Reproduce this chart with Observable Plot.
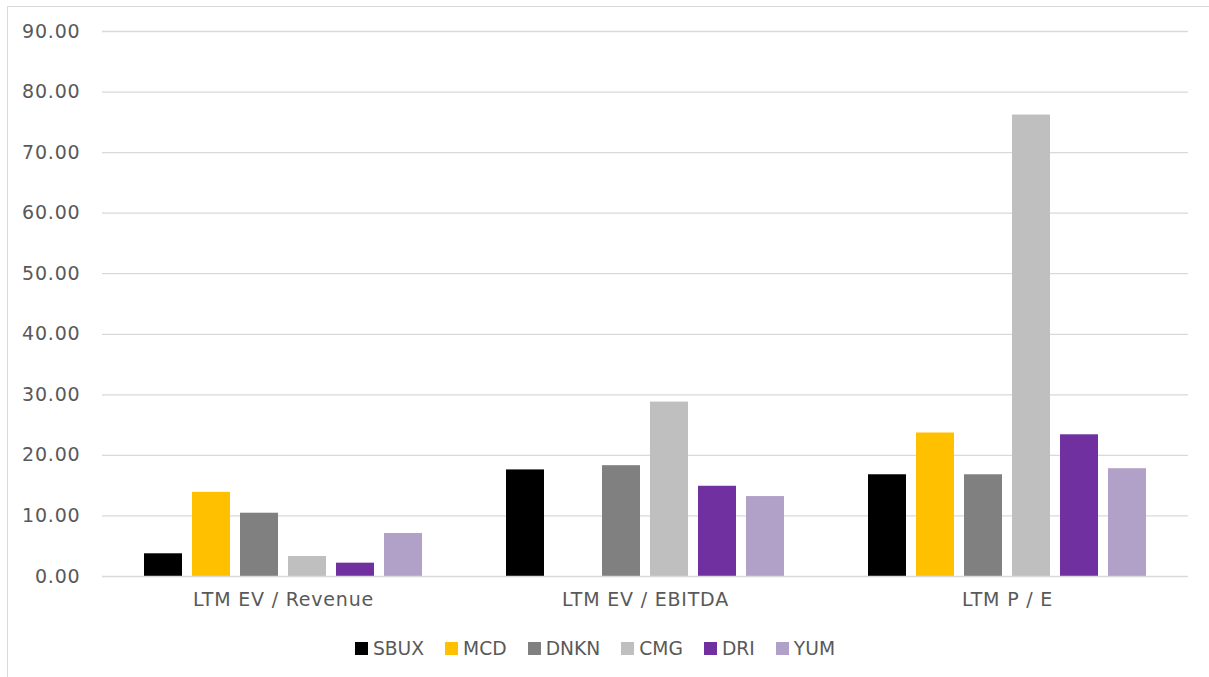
<!DOCTYPE html>
<html>
<head>
<meta charset="utf-8">
<script src="https://cdn.jsdelivr.net/npm/d3@7"></script>
<script src="https://cdn.jsdelivr.net/npm/@observablehq/plot@0.6"></script>
<style>
  html, body { margin: 0; padding: 0; background: #fff; }
  body { width: 1209px; height: 677px; position: relative; overflow: hidden; font-family: "DejaVu Sans", sans-serif; }
  #frame { position: absolute; left: 7px; top: 6px; width: 1230px; height: 700px; border: 1.5px solid #d9d9d9; box-sizing: border-box; }
  #chart { position: absolute; left: 0; top: 0; }
  #chart svg text { letter-spacing: 0.8px; }
  #legend { position: absolute; left: 0; width: 1190px; top: 638px; display: flex; justify-content: center; align-items: center; gap: 21px; font-size: 18.7px; color: #595959; }
  #legend .item { display: flex; align-items: center; gap: 5px; }
  #legend .sw { width: 13px; height: 13px; display: inline-block; }
</style>
</head>
<body>
<div id="frame"></div>
<div id="chart"></div>
<div id="legend"></div>
<script>
// ---- data ----
const metrics = ["LTM EV / Revenue", "LTM EV / EBITDA", "LTM P / E"];
const tickers = ["SBUX", "MCD", "DNKN", "CMG", "DRI", "YUM"];
const colors  = ["#000000", "#FFC000", "#808080", "#BFBFBF", "#7030A0", "#B1A0C7"];
const SBUX = [3.75, 17.6, 16.8];
const MCD  = [13.9, null, 23.7];
const DNKN = [10.45, 18.3, 16.8];
const CMG  = [3.3, 28.8, 76.2];
const DRI  = [2.2, 14.9, 23.4];
const YUM  = [7.1, 13.2, 17.8];
const yTicks = [0, 10, 20, 30, 40, 50, 60, 70, 80, 90];

const seriesByTicker = {SBUX, MCD, DNKN, CMG, DRI, YUM};
const rows = tickers.flatMap(t => metrics.map((m, j) => ({metric: m, ticker: t, value: seriesByTicker[t][j]})))
  .filter(d => d.value != null);

const chart = Plot.plot({
  width: 1209,
  height: 626,
  marginLeft: 102,
  marginRight: 21,
  marginTop: 31,
  marginBottom: 50,
  style: {fontFamily: "DejaVu Sans", fontSize: "19px", color: "#595959", background: "transparent", overflow: "visible"},
  facet: {data: rows, x: "metric"},
  fx: {domain: metrics, padding: 0, axis: "bottom", label: null, tickSize: 0, tickPadding: 16},
  x: {domain: tickers, paddingInner: 0.2, paddingOuter: 0.83, axis: null},
  y: {domain: [0, 90], ticks: yTicks, tickFormat: d => d.toFixed(2), label: null, tickSize: 0, tickPadding: 22},
  color: {domain: tickers, range: colors},
  marks: [
    Plot.ruleY(yTicks.slice(1), {stroke: "#d9d9d9", strokeWidth: 1.3}),
    Plot.barY(rows, {x: "ticker", y: "value", fill: "ticker"}),
    Plot.ruleY([0], {stroke: "#d9d9d9", strokeWidth: 1.5})
  ]
});
document.getElementById("chart").appendChild(chart);

const legend = document.getElementById("legend");
tickers.forEach((t, i) => {
  const item = document.createElement("div");
  item.className = "item";
  const sw = document.createElement("span");
  sw.className = "sw";
  sw.style.background = colors[i];
  const lab = document.createElement("span");
  lab.textContent = t;
  item.appendChild(sw);
  item.appendChild(lab);
  legend.appendChild(item);
});
</script>
</body>
</html>
